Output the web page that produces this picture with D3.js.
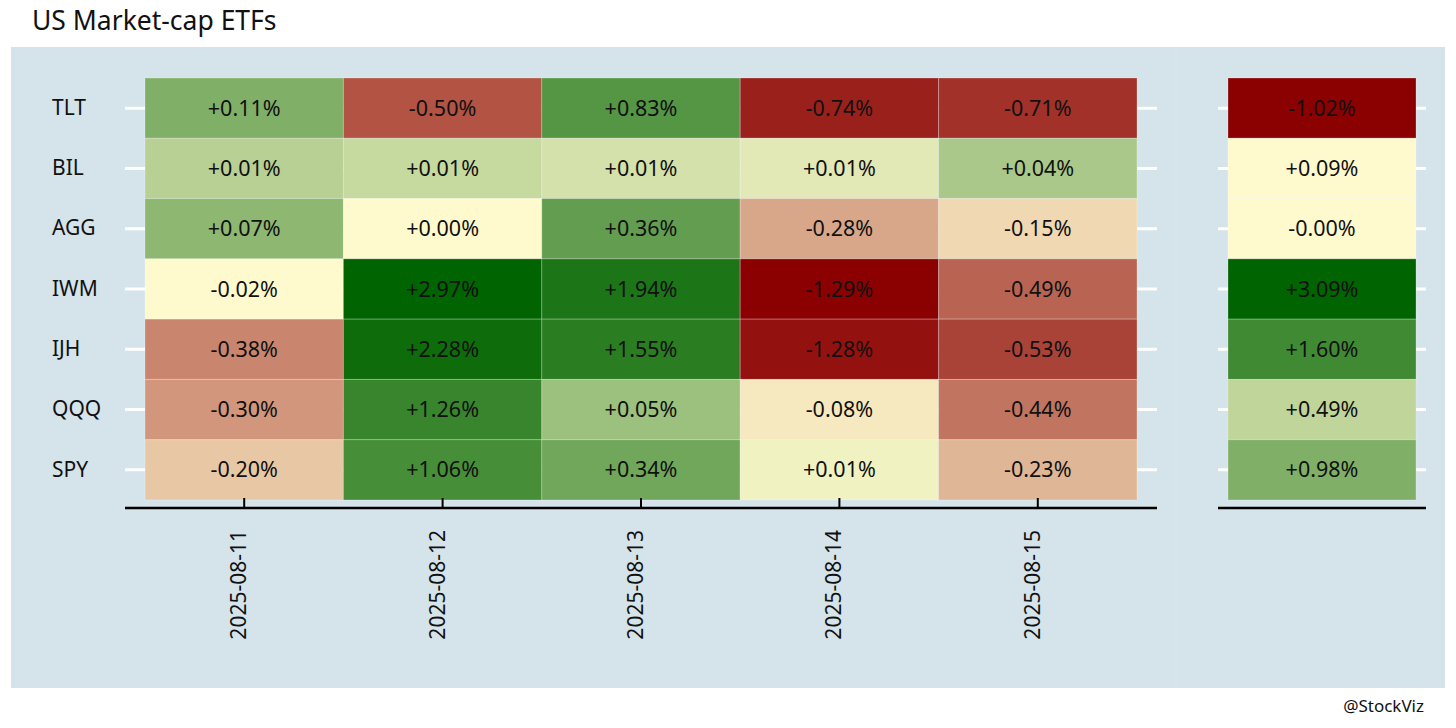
<!DOCTYPE html>
<html>
<head>
<meta charset="utf-8">
<script src="https://cdn.jsdelivr.net/npm/d3@7"></script>
<style>
  body { margin: 0; background: #fff; }
  svg { display: block; font-family: "Noto Sans", "Open Sans", sans-serif; }
  .cell text { font-size: 21.5px; fill: #111; }
  .axis text { font-size: 21px; fill: #111; font-family: "Noto Sans", sans-serif; }
</style>
</head>
<body>
<svg id="chart" width="1456" height="728"></svg>
<script>
// Data (daily % returns)
const tickers = ["TLT", "BIL", "AGG", "IWM", "IJH", "QQQ", "SPY"];
const dates = ["2025-08-11", "2025-08-12", "2025-08-13", "2025-08-14", "2025-08-15"];
const retTLT = [0.11, -0.50, 0.83, -0.74, -0.71];
const retBIL = [0.014, 0.012, 0.010, 0.008, 0.04];
const retAGG = [0.07, 0.002, 0.36, -0.28, -0.15];
const retIWM = [-0.02, 2.97, 1.94, -1.29, -0.49];
const retIJH = [-0.38, 2.28, 1.55, -1.28, -0.53];
const retQQQ = [-0.30, 1.26, 0.05, -0.08, -0.44];
const retSPY = [-0.20, 1.06, 0.34, 0.006, -0.23];
const totals = [-1.02, 0.09, -0.002, 3.09, 1.60, 0.49, 0.98];

const daily = {TLT: retTLT, BIL: retBIL, AGG: retAGG, IWM: retIWM, IJH: retIJH, QQQ: retQQQ, SPY: retSPY};

const svg = d3.select('#chart');

// Title and caption
svg.append('text').attr('x', 32).attr('y', 30)
    .style('font-size', '26.5px').attr('fill', '#111')
    .text('US Market-cap ETFs');
svg.append('text').attr('x', 1424).attr('y', 712)
    .attr('text-anchor', 'end')
    .style('font-size', '17px').attr('fill', '#111')
    .text('@StockViz');

// Panel background (two facets)
svg.append('rect').attr('x', 11).attr('y', 47).attr('width', 1434).attr('height', 641)
    .attr('fill', '#d5e3ea');
svg.append('line').attr('x1', 1176).attr('x2', 1176).attr('y1', 47).attr('y2', 688)
    .attr('stroke', '#dae7ed').attr('stroke-width', 1);

const fmt = v => (v < 0 ? '-' : '+') + Math.abs(v).toFixed(2) + '%';

// Colour: rank within sign, separately for each panel
const low = '#8b0000', mid = '#fffacd', high = '#006400';
function colorFor(values) {
    const neg = values.filter(v => v < 0).sort((a, b) => b - a);
    const pos = values.filter(v => v >= 0).sort((a, b) => a - b);
    const iNeg = d3.interpolateRgb(mid, low), iPos = d3.interpolateRgb(mid, high);
    return v => {
        if (v < 0) return iNeg(neg.length > 1 ? neg.indexOf(v) / (neg.length - 1) : 1);
        return iPos(pos.length > 1 ? pos.indexOf(v) / (pos.length - 1) : 1);
    };
}

const y = d3.scaleBand().domain(tickers).range([78, 500]);

function panel(cols, cells, x0, x1, pad, showTicks) {
    const x = d3.scaleBand().domain(cols).range([x0, x1]);
    const color = colorFor(cells.map(d => d.v));
    const g = svg.append('g');

    // white y ticks on both sides
    g.selectAll('line.yt').data(tickers).enter().append('line')
        .attr('x1', x0 - pad).attr('x2', x1 + pad)
        .attr('y1', d => y(d) + y.bandwidth() / 2)
        .attr('y2', d => y(d) + y.bandwidth() / 2)
        .attr('stroke', '#fff').attr('stroke-width', 3);

    const cg = g.selectAll('g.cell').data(cells).enter().append('g').attr('class', 'cell');
    cg.append('rect')
        .attr('x', d => x(d.col)).attr('y', d => y(d.row))
        .attr('width', x.bandwidth()).attr('height', y.bandwidth())
        .attr('fill', d => color(d.v))
        .attr('stroke', 'rgba(255,255,255,0.25)').attr('stroke-width', 1);
    cg.append('text')
        .attr('x', d => x(d.col) + x.bandwidth() / 2)
        .attr('y', d => y(d.row) + y.bandwidth() / 2)
        .attr('dy', '0.35em').attr('text-anchor', 'middle')
        .text(d => fmt(d.v));

    // bottom axis
    const ax = g.append('g').attr('class', 'axis')
        .attr('transform', `translate(0, 508)`)
        .call(d3.axisBottom(x).tickSize(showTicks ? -10 : 0).tickSizeOuter(0));
    ax.select('.domain').attr('d', `M${x0 - pad},0H${x1 + pad}`)
        .attr('stroke', '#000').attr('stroke-width', 2.5);
    ax.selectAll('.tick line').attr('stroke', '#000').attr('stroke-width', 2);
    if (showTicks) {
        ax.selectAll('.tick text')
            .attr('transform', 'rotate(-90)')
            .attr('x', -22).attr('y', 2).attr('dy', 0)
            .attr('text-anchor', 'end');
    } else {
        ax.selectAll('.tick text').remove();
    }
}

const leftCells = [];
tickers.forEach(t => daily[t].forEach((v, j) => leftCells.push({row: t, col: dates[j], v: v})));
panel(dates, leftCells, 145, 1137, 20, true);

const rightCells = tickers.map((t, i) => ({row: t, col: 'total', v: totals[i]}));
panel(['total'], rightCells, 1228, 1416, 10, false);

// y axis labels
const yAx = svg.append('g').attr('class', 'axis')
    .attr('transform', 'translate(52, 0)')
    .call(d3.axisLeft(y).tickSize(0));
yAx.select('.domain').remove();
yAx.selectAll('.tick text').attr('x', 0).attr('text-anchor', 'start');
</script>
</body>
</html>
